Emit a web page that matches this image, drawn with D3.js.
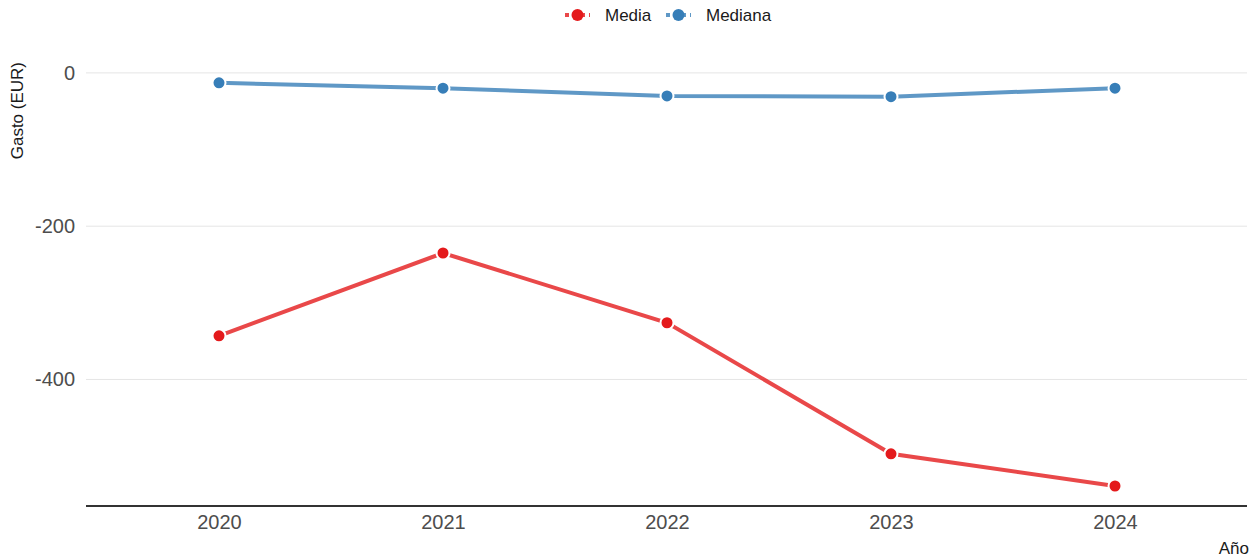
<!DOCTYPE html>
<html><head><meta charset="utf-8">
<script src="https://cdn.jsdelivr.net/npm/d3@7"></script>
<style>body{margin:0;background:#fff;font-family:Arial,"Liberation Sans",sans-serif;}</style>
</head><body>
<svg id="c" width="1259" height="557"></svg>
<script>
const years = ["2020","2021","2022","2023","2024"];
const media = [-343, -235, -326, -497, -539];
const mediana = [-13, -20, -30, -31, -20];
const seriesNames = ["Media","Mediana"];
const seriesColors = ["#E41A1C","#377EB8"];
const yTicks = [0, -200, -400];

const FF = "Arial,'Liberation Sans',sans-serif";
const svg = d3.select("#c");
const m = {l:86, r:1247, t:63, b:506};
const x = d3.scalePoint().domain(years).range([219, 1115]);
const y = d3.scaleLinear().domain([-565.1, 12.9]).range([m.b, m.t]);

// gridlines
svg.append("g").selectAll("line").data(yTicks).join("line")
  .attr("x1", m.l).attr("x2", m.r).attr("y1", d=>y(d)).attr("y2", d=>y(d))
  .attr("stroke", "#e5e5e5").attr("stroke-width", 1);

// y axis labels
const ya = svg.append("g").attr("transform",`translate(${m.l},0)`)
  .call(d3.axisLeft(y).tickValues(yTicks).tickSize(0).tickPadding(11).tickFormat(d => String(d)));
ya.select(".domain").remove();
ya.selectAll("text").attr("font-size", 20).attr("fill","#4d4d4d").attr("font-family",FF);

// x axis
const xa = svg.append("g").attr("transform",`translate(0,${m.b})`)
  .call(d3.axisBottom(x).tickSize(0).tickPadding(9));
xa.select(".domain").remove();
xa.selectAll("text").attr("font-size", 20).attr("fill","#4d4d4d").attr("font-family",FF);
svg.append("line").attr("x1", m.l).attr("x2", m.r).attr("y1", m.b).attr("y2", m.b)
  .attr("stroke", "#333").attr("stroke-width", 2);

// titles
svg.append("text").attr("transform", `translate(23,${m.t - 1}) rotate(-90)`)
  .attr("text-anchor","end").attr("font-size", 17).attr("fill","#1a1a1a").attr("font-family",FF).text("Gasto (EUR)");
svg.append("text").attr("x", m.r + 2).attr("y", 554).attr("text-anchor","end")
  .attr("font-size", 17).attr("fill","#1a1a1a").attr("font-family",FF).text("Año");

// series
const data = [media, mediana];
const line = d3.line().x((d,i)=>x(years[i])).y(d=>y(d));
data.forEach((vals, k) => {
  svg.append("path").datum(vals).attr("d", line).attr("fill","none")
    .attr("stroke", seriesColors[k]).attr("stroke-opacity", 0.8).attr("stroke-width", 4);
  svg.append("g").selectAll("circle").data(vals).join("circle")
    .attr("cx", (d,i)=>x(years[i])).attr("cy", d=>y(d)).attr("r", 6.5)
    .attr("fill", seriesColors[k]).attr("stroke","#fff").attr("stroke-width", 2);
});

// legend
const legX = [565, 666];
const textX = [605, 706];
const lg = svg.append("g");
seriesNames.forEach((n,k)=>{
  const g = lg.append("g").attr("transform",`translate(${legX[k]},15)`);
  g.append("line").attr("x1",0).attr("x2",25).attr("y1",0).attr("y2",0)
    .attr("stroke", seriesColors[k]).attr("stroke-opacity",0.8).attr("stroke-width",4)
    .attr("stroke-dasharray","4,4");
  g.append("circle").attr("cx",12.5).attr("cy",0).attr("r",6).attr("fill",seriesColors[k]);
  lg.append("text").attr("x",textX[k]).attr("y",21).attr("font-size",17).attr("fill","#1a1a1a")
    .attr("font-family",FF).text(n);
});
</script>
</body></html>
